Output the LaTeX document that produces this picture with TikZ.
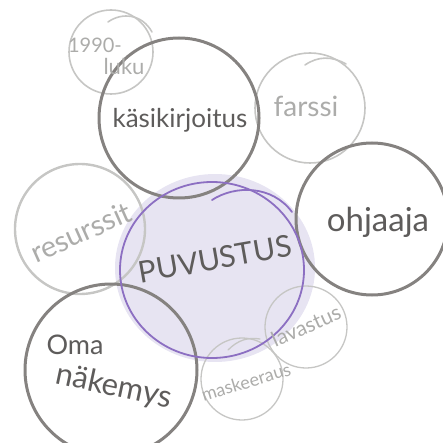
\documentclass[tikz,border=0pt]{standalone}
\usepackage{fontspec}
\setmainfont{Lato}
\definecolor{tumma}{HTML}{858280}
\definecolor{vaalea}{HTML}{C6C6C4}
\definecolor{teksti}{HTML}{5E5C5B}
\definecolor{vteksti}{HTML}{ACACAA}
\definecolor{liila}{HTML}{8C6FC2}
\definecolor{liilapohja}{HTML}{E7E4F2}
\begin{document}
\begin{tikzpicture}[x=1pt,y=-1pt,line join=round,line cap=round]
                \tikzset{iso/.style={draw=tumma,line width=3pt},
                         pieni/.style={draw=vaalea,line width=1.6pt},
                         sana/.style={text=teksti,inner sep=0pt},
                         vsana/.style={text=vteksti,inner sep=0pt}}
                \def \koko#1{\fontsize{#1}{#1}\selectfont}
                \useasboundingbox (0,0) rectangle (443,443);
                % keskusta
                \fill[liilapohja] (215,268) ellipse (100pt and 94pt);
                % ympyrat
                \draw[pieni] (111,52) circle (42pt);
                \draw[pieni] (108,22) .. controls (122,12) and (142,14) .. (152,32);
                \draw[pieni] (310,108) circle (55pt);
                \draw[pieni] (305,65) .. controls (318,56) and (332,56) .. (346,64);
                \draw[pieni,line width=2.4pt] (80,229) circle (65pt);
                \draw[pieni,line width=1.3pt] (242,379) circle (41pt);
                \draw[pieni,line width=1.3pt] (228,350) .. controls (238,340) and (248,337) .. (260,339);
                \draw[pieni,line width=1.3pt] (306,327) circle (41pt);
                \draw[iso] (179,118) circle (80pt);
                \draw[iso] (372,219) circle (76pt);
                \draw[iso] (111,370) circle (86pt);
                \draw[liila,line width=1.8pt] (212,270) ellipse (92pt and 88pt);
                \draw[liila,line width=1.8pt] (212,200) .. controls (235,185) and (272,185) .. (292,212);
                % tekstit
                \node[vsana,font=\koko{20}] (vuosi) at (95,45) {1990-};
                \node[vsana,font=\koko{22}] (luku) at (124,66) {luku};
                \node[sana,font=\koko{26}] (kasis) at (180,120) {käsikirjoitus};
                \node[vsana,font=\koko{28}] (farssi) at (306,106) {farssi};
                \node[sana,font=\koko{33}] (ohjaaja) at (378,222) {ohjaaja};
                \node[vsana,font=\koko{29},rotate=24] (resurssit) at (81,232) {resurssit};
                \node[sana,font=\koko{30},rotate=10] (puvustus) at (215,259) {PUVUSTUS};
                \node[sana,font=\koko{27}] (oma) at (75,345) {Oma};
                \node[sana,font=\koko{31},rotate=-12] (nakemys) at (114,387) {näkemys};
                \node[vsana,font=\koko{18},rotate=17] (maskeeraus) at (246,382) {maskeeraus};
                \node[vsana,font=\koko{21},rotate=24] (lavastus) at (306,326) {lavastus};
\end{tikzpicture}
\end{document}
